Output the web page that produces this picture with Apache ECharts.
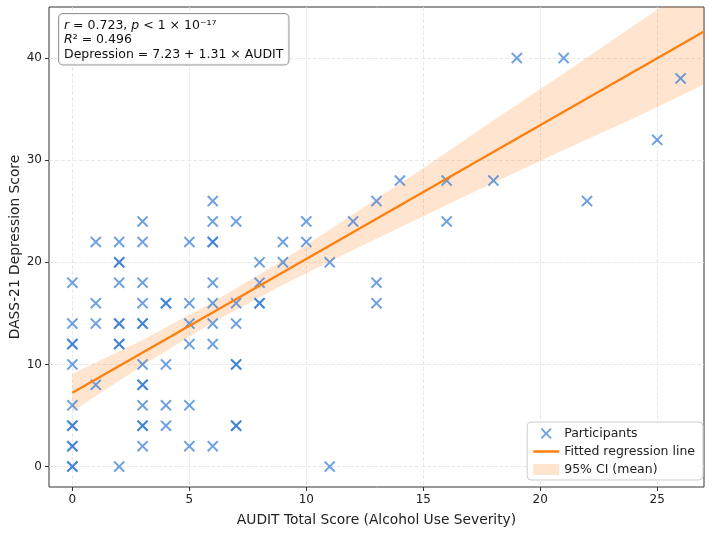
<!DOCTYPE html>
<html>
<head>
<meta charset="utf-8">
<script src="https://cdn.jsdelivr.net/npm/echarts@6/dist/echarts.min.js"></script>
<style>
  html, body { margin: 0; padding: 0; background: #fff; }
  #chart { width: 712px; height: 533px; }
</style>
</head>
<body>
<div id="chart"></div>
<script>
// participants (AUDIT score, DASS-21 depression score), repeated points appear darker
var audit = [
    0, 0, 0, 0, 0, 0, 0, 0, 0, 0, 0, 0,
    1, 1, 1, 1,
    2, 2, 2, 2, 2, 2, 2, 2, 2,
    3, 3, 3, 3, 3, 3, 3, 3, 3, 3, 3, 3, 3,
    4, 4, 4, 4, 4,
    5, 5, 5, 5, 5, 5,
    6, 6, 6, 6, 6, 6, 6, 6, 6,
    7, 7, 7, 7, 7, 7, 7,
    8, 8, 8, 8,
    9, 9,
    10, 10,
    11, 11,
    12,
    13, 13, 13,
    14,
    16, 16,
    18, 19, 21, 22, 25, 26
];
var dass = [
    18, 14, 12, 12, 10, 6, 4, 4, 2, 2, 0, 0,
    22, 16, 14, 8,
    22, 20, 20, 18, 14, 14, 12, 12, 0,
    24, 22, 18, 16, 14, 14, 10, 8, 8, 6, 4, 4, 2,
    16, 16, 10, 6, 4,
    22, 16, 14, 12, 6, 2,
    26, 24, 22, 22, 18, 16, 14, 12, 2,
    24, 16, 14, 10, 10, 4, 4,
    20, 18, 16, 16,
    22, 20,
    24, 22,
    20, 0,
    24,
    26, 18, 16,
    28,
    28, 24,
    28, 40, 40, 26, 32, 38
];

// fitted line: Depression = 7.23 + 1.31 x AUDIT
var fitX = [0, 27];
var fitY = [7.23, 42.6];

// 95% CI of the mean
var ciX = [0, 3, 6, 9, 12, 15, 18, 21, 24, 27];
var ciLow = [5.4, 9.9, 14.1, 17.8, 21.2, 24.5, 27.8, 31.0, 34.1, 37.4];
var ciHigh = [9.1, 12.4, 16.1, 20.2, 24.7, 29.2, 33.9, 38.5, 43.2, 47.8];

var xTicks = [0, 5, 10, 15, 20, 25];
var yTicks = [0, 10, 20, 30, 40];

var FONT = 'DejaVu Sans';
var X_ICON = 'path://M0,1.2L1.2,0L5,3.8L8.8,0L10,1.2L6.2,5L10,8.8L8.8,10L5,6.2L1.2,10L0,8.8L3.8,5Z';
// thin bar; the two tiny specks only widen the box so the bar keeps its height
var LINE_ICON = 'path://M0,0L0.01,0L0,0.01Z M0,4.3H26V6.7H0Z M0,11L0.01,11L0,10.99Z';

var points = audit.map(function (a, i) { return [a, dass[i]]; });
var fitData = fitX.map(function (x, i) { return [x, fitY[i]]; });
var ciData = ciX.map(function (x, i) { return [x, ciLow[i], ciHigh[i]]; });

var chart = echarts.init(document.getElementById('chart'));

var option = {
    animation: false,
    textStyle: { fontFamily: FONT },
    grid: {
        left: 49, right: 8, top: 7, bottom: 46,
        outerBoundsMode: 'none',
        containLabel: false,
        show: true,
        borderColor: '#333',
        borderWidth: 1,
        backgroundColor: 'transparent'
    },
    xAxis: {
        type: 'value',
        min: -1, max: 27,
        name: 'AUDIT Total Score (Alcohol Use Severity)',
        nameLocation: 'middle',
        nameGap: 26,
        nameMoveOverlap: false,
        nameTextStyle: { fontSize: 13.8, color: '#222', fontFamily: FONT },
        axisLine: { show: false, onZero: false },
        axisTick: { show: true, length: 4, customValues: xTicks, lineStyle: { color: '#333' } },
        axisLabel: { customValues: xTicks, margin: 7, fontSize: 12, color: '#222', fontFamily: FONT },
        splitLine: { show: true, lineStyle: { color: '#e3e3e3', type: [4, 2], width: 0.8 } }
    },
    yAxis: {
        type: 'value',
        min: -2, max: 45,
        name: 'DASS-21 Depression Score',
        nameLocation: 'middle',
        nameGap: 27,
        nameMoveOverlap: false,
        nameTextStyle: { fontSize: 13.8, color: '#222', fontFamily: FONT },
        axisLine: { show: false, onZero: false },
        axisTick: { show: true, length: 4, customValues: yTicks, lineStyle: { color: '#333' } },
        axisLabel: { customValues: yTicks, margin: 7, fontSize: 12, color: '#222', fontFamily: FONT },
        splitLine: { show: true, lineStyle: { color: '#e3e3e3', type: [4, 2], width: 0.8 } }
    },
    legend: {
        orient: 'vertical',
        right: 9,
        bottom: 53,
        itemWidth: 26,
        itemHeight: 11,
        itemGap: 5,
        padding: [5, 8, 4, 6],
        borderColor: '#ccc',
        borderWidth: 1,
        borderRadius: 4,
        backgroundColor: 'rgba(255,255,255,0.85)',
        textStyle: { fontSize: 12.5, color: '#222', fontFamily: FONT },
        data: [
            { name: 'Participants', icon: X_ICON },
            { name: 'Fitted regression line', icon: LINE_ICON },
            { name: '95% CI (mean)', icon: 'rect' }
        ]
    },
    graphic: [{
        type: 'text',
        left: 58,
        top: 13,
        z: 100,
        style: {
            text: '{i|r} = 0.723, {i|p} < 1 × 10⁻¹⁷\n{i|R}² = 0.496\nDepression = 7.23 + 1.31 × AUDIT',
            font: '12.5px "DejaVu Sans"',
            fill: '#111',
            lineHeight: 14.5,
            backgroundColor: 'rgba(255,255,255,0.85)',
            borderColor: '#999',
            borderWidth: 1,
            borderRadius: 4,
            padding: [4, 5, 3, 5],
            rich: {
                i: { fontStyle: 'italic', fontSize: 12.5, fontFamily: FONT, fill: '#111', lineHeight: 14.5 }
            }
        }
    }],
    series: [
        {
            name: '95% CI (mean)',
            type: 'custom',
            z: 1,
            itemStyle: { color: 'rgba(255,127,14,0.2)' },
            data: ciData,
            renderItem: function (params, api) {
                if (params.dataIndex !== 0) return;
                var upper = ciData.map(function (d) { return api.coord([d[0], d[2]]); });
                var lower = ciData.map(function (d) { return api.coord([d[0], d[1]]); }).reverse();
                var cs = params.coordSys;
                return {
                    type: 'polygon',
                    shape: { points: upper.concat(lower) },
                    style: { fill: 'rgba(255,127,14,0.2)', stroke: 'none' },
                    clipPath: { type: 'rect', shape: { x: cs.x, y: cs.y, width: cs.width, height: cs.height } }
                };
            }
        },
        {
            name: 'Participants',
            type: 'scatter',
            z: 2,
            symbol: X_ICON,
            symbolSize: 11.5,
            symbolKeepAspect: true,
            itemStyle: { color: '#2f78d6', opacity: 0.7 },
            data: points
        },
        {
            name: 'Fitted regression line',
            type: 'line',
            z: 3,
            symbol: 'none',
            lineStyle: { color: '#ff7f0e', width: 2.3 },
            itemStyle: { color: '#ff7f0e' },
            data: fitData
        }
    ]
};

chart.setOption(option);
</script>
</body>
</html>
